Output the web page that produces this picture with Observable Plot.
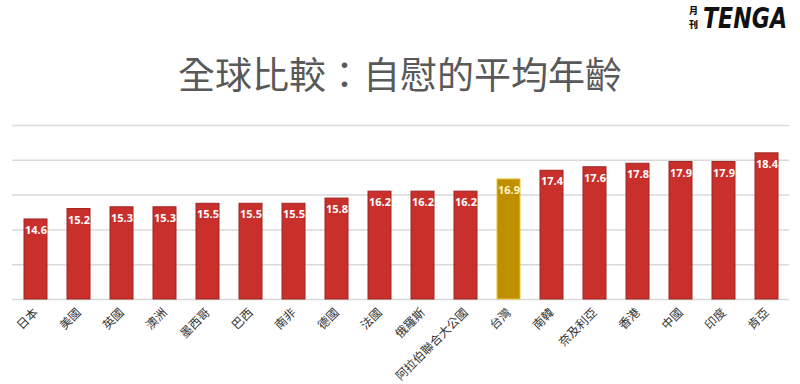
<!DOCTYPE html>
<html><head><meta charset="utf-8">
<script src="https://cdn.jsdelivr.net/npm/d3@7"></script>
<script src="https://cdn.jsdelivr.net/npm/@observablehq/plot@0.6"></script>
<style>
body{margin:0;background:#fff;width:800px;height:384px;overflow:hidden;position:relative;font-family:"Noto Sans CJK TC","Noto Sans",sans-serif;}
#title{position:absolute;left:0;width:800px;top:51px;text-align:center;font-size:37px;color:#595959;line-height:44px;}
#logo{position:absolute;left:680px;top:0px;}
#chart{position:absolute;left:0;top:115px;}
</style></head>
<body>
<svg id="logo" width="120" height="34" viewBox="0 0 120 34">
  <text x="9" y="14" font-family="Noto Sans CJK TC" font-weight="900" font-size="9" fill="#111">月</text>
  <text x="9" y="28" font-family="Noto Sans CJK TC" font-weight="900" font-size="9" fill="#111">刊</text>
  <text transform="translate(23,28) scale(1,1.25)" x="0" y="0" font-family="DejaVu Sans" font-weight="bold" font-style="italic" font-size="23" fill="#111" textLength="84" lengthAdjust="spacingAndGlyphs">TENGA</text>
</svg>
<div id="title">全球比較：自慰的平均年齡</div>
<div id="chart"></div>
<script>
const countries = ["日本","美國","英國","澳洲","墨西哥","巴西","南非","德國","法國","俄羅斯","阿拉伯聯合大公國","台灣","南韓","奈及利亞","香港","中國","印度","肯亞"];
const ages = [14.6,15.2,15.3,15.3,15.5,15.5,15.5,15.8,16.2,16.2,16.2,16.9,17.4,17.6,17.8,17.9,17.9,18.4];
const highlight = "台灣";
const yTicks = [10,12,14,16,18,20];

const data = countries.map((c,i)=>({country:c, age:ages[i]}));
const base = yTicks[0];

const chart = Plot.plot({
  width:800, height:269,
  marginTop:10, marginBottom:85, marginLeft:12, marginRight:11,
  x:{domain:countries, paddingInner:0.47, paddingOuter:0.235, label:null, tickSize:0, tickRotate:-45, tickPadding:11},
  y:{domain:[10,20], axis:null},
  style:{fontFamily:'"Noto Sans CJK TC", sans-serif', fontSize:"12px", color:"#333333", background:"white"},
  marks:[
    Plot.gridY(yTicks, {stroke:"#d9d9d9", strokeOpacity:1, strokeWidth:1.5}),
    Plot.barY(data.filter(d=>d.country!==highlight), {x:"country", y1:()=>base, y2:"age", fill:"#c9302c", stroke:"#9e2624", strokeWidth:1}),
    Plot.barY(data.filter(d=>d.country===highlight), {x:"country", y1:()=>base, y2:"age", fill:"#bf8f00", stroke:"#e3c43c", strokeWidth:1}),
    Plot.text(data, {x:"country", y:"age", text:d=>d.age.toFixed(1), dy:11, fill:d=>d.country===highlight?"#fff7c8":"#ffffff", fontWeight:"bold", fontSize:11, fontFamily:'"Noto Sans", sans-serif'})
  ]
});
document.getElementById("chart").appendChild(chart);
</script>
</body></html>
